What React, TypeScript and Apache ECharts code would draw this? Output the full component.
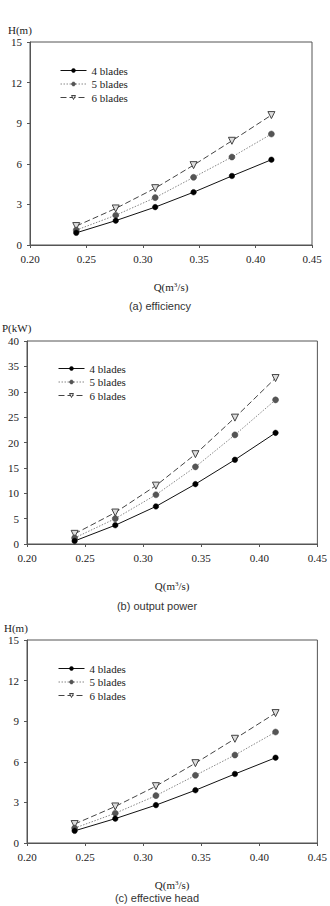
import React, { useEffect, useRef } from "react";
import * as echarts from "echarts";

// Flow rate Q (m³/s) at each measured operating point
const flowRates = [0.241, 0.276, 0.311, 0.345, 0.379, 0.414];

// Panel (a): head H (m)
const effHead4 = [0.9, 1.8, 2.8, 3.9, 5.1, 6.3];
const effHead5 = [1.1, 2.2, 3.5, 5.0, 6.5, 8.2];
const effHead6 = [1.4, 2.7, 4.2, 5.9, 7.7, 9.6];

// Panel (b): output power P (kW)
const power4 = [0.6, 3.7, 7.4, 11.8, 16.6, 21.9];
const power5 = [1.2, 5.0, 9.7, 15.2, 21.5, 28.4];
const power6 = [2.0, 6.2, 11.5, 17.7, 24.9, 32.7];

// Panel (c): effective head H (m)
const head4 = [0.9, 1.8, 2.8, 3.9, 5.1, 6.3];
const head5 = [1.1, 2.2, 3.5, 5.0, 6.5, 8.2];
const head6 = [1.4, 2.7, 4.2, 5.9, 7.7, 9.6];

const seriesNames = ["4 blades", "5 blades", "6 blades"];
const xTicks = { min: 0.2, max: 0.45, interval: 0.05 };
const headTicks = { min: 0, max: 15, interval: 3 };
const powerTicks = { min: 0, max: 40, interval: 5 };
const captions = ["(a) efficiency", "(b) output power", "(c) effective head"];
const yTitles = ["H(m)", "P(kW)", "H(m)"];

const SERIF = "Liberation Serif";
const SANS = "Liberation Sans";
const AXIS_COLOR = "#555";

const zip = (xs: number[], ys: number[]) => xs.map((x, i) => [x, ys[i]]);

const seriesStyles = [
  {
    symbol: "circle",
    symbolSize: 5.5,
    symbolRotate: 0,
    itemStyle: { color: "#000", borderColor: "#000", borderWidth: 0.5 },
    lineStyle: { color: "#111", width: 1, type: "solid" as any },
  },
  {
    symbol: "circle",
    symbolSize: 6,
    symbolRotate: 0,
    itemStyle: { color: "#555", borderColor: "#444", borderWidth: 0.5 },
    lineStyle: { color: "#888", width: 1, type: [1.5, 1.5] as any },
  },
  {
    symbol: "triangle",
    symbolSize: 7,
    symbolRotate: 180,
    itemStyle: { color: "#ddd", borderColor: "#444", borderWidth: 1 },
    lineStyle: { color: "#444", width: 1, type: [6, 3] as any },
  },
];

const panels = [
  { grid: { left: 30, top: 42, width: 282, height: 203 }, y: headTicks, data: [effHead4, effHead5, effHead6], legend: { left: 55, top: 60 }, yTitle: { x: 8, y: 30 }, caption: { x: 160, y: 306 } },
  { grid: { left: 27, top: 341, width: 292, height: 203 }, y: powerTicks, data: [power4, power5, power6], legend: { left: 53, top: 358 }, yTitle: { x: 2, y: 328 }, caption: { x: 157, y: 606 } },
  { grid: { left: 27, top: 640, width: 292, height: 203 }, y: headTicks, data: [head4, head5, head6], legend: { left: 53, top: 658 }, yTitle: { x: 4, y: 628 }, caption: { x: 157, y: 898 } },
];

export default function App() {
  const ref = useRef<HTMLDivElement>(null);

  useEffect(() => {
    if (!ref.current) return;
    const chart = echarts.init(ref.current, undefined, { renderer: "svg" });

    const grids = panels.map((p) => ({
      ...p.grid,
      show: true,
      borderColor: AXIS_COLOR,
      borderWidth: 1,
      containLabel: false,
    }));

    const xAxes = panels.map((_, i) => ({
      type: "value",
      gridIndex: i,
      min: xTicks.min,
      max: xTicks.max,
      interval: xTicks.interval,
      name: "Q(m{sup|3}/s)",
      nameLocation: "middle",
      nameGap: 36,
      nameTextStyle: {
        fontFamily: SERIF,
        fontSize: 11,
        color: "#222",
        rich: { sup: { fontFamily: SERIF, fontSize: 7, color: "#222", verticalAlign: "top", padding: [0, 0, 5, 0] } },
      },
      axisLine: { show: true, lineStyle: { color: AXIS_COLOR, width: 1 } },
      axisTick: { show: true, inside: false, length: 3, lineStyle: { color: AXIS_COLOR } },
      axisLabel: {
        margin: 8,
        fontFamily: SERIF,
        fontSize: 11,
        color: "#222",
        formatter: (v: number) => v.toFixed(2),
      },
      splitLine: { show: false },
    }));

    const yAxes = panels.map((p, i) => ({
      type: "value",
      gridIndex: i,
      min: p.y.min,
      max: p.y.max,
      interval: p.y.interval,
      axisLine: { show: true, lineStyle: { color: AXIS_COLOR, width: 1 } },
      axisTick: { show: true, inside: false, length: 3, lineStyle: { color: AXIS_COLOR } },
      axisLabel: { margin: 8, fontFamily: SERIF, fontSize: 11, color: "#222" },
      splitLine: { show: false },
    }));

    const series: any[] = [];
    panels.forEach((p, i) => {
      p.data.forEach((ys, k) => {
        const st = seriesStyles[k];
        series.push({
          type: "line",
          name: seriesNames[k],
          xAxisIndex: i,
          yAxisIndex: i,
          data: zip(flowRates, ys),
          symbol: st.symbol,
          symbolSize: st.symbolSize,
          symbolRotate: st.symbolRotate,
          showAllSymbol: true,
          itemStyle: st.itemStyle,
          lineStyle: st.lineStyle,
          z: 3 - k,
        });
      });
    });

    const legends = panels.map((p) => ({
      orient: "vertical",
      left: p.legend.left,
      top: p.legend.top,
      itemWidth: 26,
      itemHeight: 5,
      itemGap: 2.5,
      data: seriesNames.map((name, k) => ({
        name,
        itemStyle: { ...seriesStyles[k].itemStyle },
      })),
      selectedMode: false,
      lineStyle: { width: 1 },
      textStyle: { fontFamily: SERIF, fontSize: 11, color: "#222", lineHeight: 11 },
    }));

    const graphics: any[] = [];
    panels.forEach((p, i) => {
      graphics.push({
        type: "text",
        x: p.yTitle.x,
        y: p.yTitle.y,
        style: { text: yTitles[i], font: `11px "${SERIF}"`, fill: "#222", textAlign: "left", textVerticalAlign: "middle" },
      });
      graphics.push({
        type: "text",
        x: p.caption.x,
        y: p.caption.y,
        style: { text: captions[i], font: `11px "${SANS}"`, fill: "#333", textAlign: "center", textVerticalAlign: "middle" },
      });
    });

    chart.setOption({
      animation: false,
      backgroundColor: "#fff",
      grid: grids,
      xAxis: xAxes,
      yAxis: yAxes,
      legend: legends,
      series,
      graphic: graphics,
    });

    return () => chart.dispose();
  }, []);

  return (
    <div
      ref={ref}
      style={{ position: "fixed", left: 0, top: 0, width: 330, height: 906, background: "#fff" }}
    />
  );
}
